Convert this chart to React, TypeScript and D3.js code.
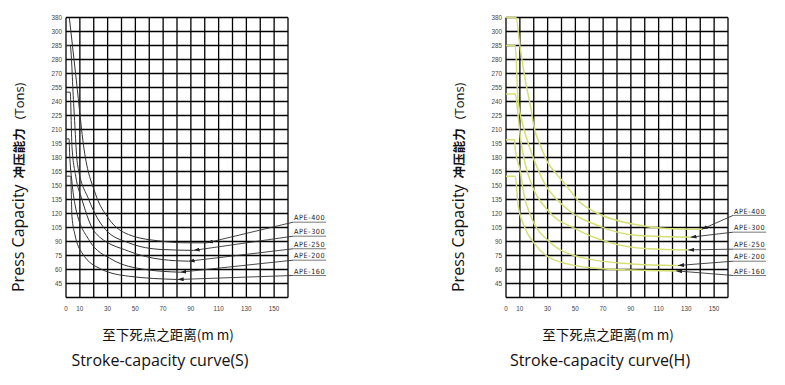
import React from 'react';
import * as d3 from 'd3';

// model names, top to bottom
const models = ['APE-400', 'APE-300', 'APE-250', 'APE-200', 'APE-160'];

// y tick labels as printed on the sheet (one per grid line, from the top)
const yTickLabels = ['380', '300', '285', '280', '270', '255', '240', '225', '210', '195',
  '180', '165', '150', '135', '120', '105', '90', '75', '60', '45'];
const yTickValues = [330, 315, 300, 285, 270, 255, 240, 225, 210, 195,
  180, 165, 150, 135, 120, 105, 90, 75, 60, 45];
const xTickValues = [0, 10, 30, 50, 70, 90, 110, 130, 150];

// Stroke-capacity curve (S): [stroke mm, capacity t]
const sApe400 = [[2.4, 330], [7.5, 262], [13, 189], [21, 142], [31, 114], [45, 97.5], [69, 90.3], [88, 88.6], [101.6, 88.6]];
const sApe300 = [[0, 300], [3, 300], [5.5, 238], [8.3, 172.5], [16.4, 135], [28.3, 103], [45.2, 88.6], [69.2, 81.4], [92, 80.5]];
const sApe250 = [[0, 250], [3, 250], [4.3, 192], [7, 160], [11.5, 135], [21.1, 99.3], [45.2, 79.6], [69.2, 70.7], [88.4, 68.9]];
const sApe200 = [[0, 200], [2.2, 200], [2.6, 185], [4.2, 155], [6.7, 128], [16.4, 92.1], [33.2, 70.7], [57.2, 60], [82.4, 57.1]];
const sApe160 = [[0, 160], [3.4, 160], [4.3, 117], [6.5, 97], [11.5, 77.9], [25.9, 60], [45.2, 52.8], [80.5, 49.3]];
const sLabelTons = [110.7, 95.7, 82.2, 70, 53.6];

// Stroke-capacity curve (H)
const hApe400 = [[0, 330], [7.2, 330], [10, 300], [14, 262], [18, 232], [20, 214], [25, 192], [30.3, 174], [36, 163], [42.3, 152], [51.9, 134], [66.3, 120], [90.3, 109], [115, 104], [141, 103]];
const hApe300 = [[0, 300], [6.7, 300], [8.6, 243], [12.3, 214], [17.8, 187.5], [21.8, 171.4], [27.9, 152], [42.3, 127], [66.3, 107], [95.1, 96.4], [133, 94.6]];
const hApe250 = [[0, 248], [6.7, 248], [8.5, 228], [10.5, 200], [14, 172], [18.2, 152], [30.3, 123], [49.5, 104], [73.5, 89.3], [102.3, 82.2], [131.4, 81]];
const hApe200 = [[0, 199], [6.2, 199], [6.8, 187], [9.9, 168], [13, 140], [18.2, 116], [30.3, 91], [54.3, 73], [90.3, 66], [124, 64.3]];
const hApe160 = [[0, 160], [6.7, 160], [8.6, 130], [13.5, 105], [20.7, 87.5], [35.1, 70], [66.3, 61], [90, 59.5], [122.7, 58.5]];
const hLabelTons = [118, 100, 81.8, 68.9, 53.6];

// label underline span, mm
const labelStroke = [163.7, 187.5];

type Pt = number[];

function Panel({ left, id, series, labelTons, curveColor, curveWidth, title }: {
  left: number; id: string; series: Pt[][]; labelTons: number[];
  curveColor: string; curveWidth: number; title: string;
}) {
  const x = d3.scaleLinear().domain([0, 160]).range([left, left + 222]);
  const y = d3.scaleLinear().domain([30, 330]).range([297.5, 17.5]);
  const line = d3.line<Pt>().x(d => x(d[0])).y(d => y(d[1])).curve(d3.curveMonotoneX);

  const vLines = d3.range(0, 161, 10);
  const hLines = d3.range(30, 331, 15);

  return (
    <g>
      <defs>
        <marker id={`arr-${id}`} viewBox="0 0 6 4" refX="6" refY="2" markerWidth="6" markerHeight="4"
          markerUnits="userSpaceOnUse" orient="auto">
          <path d="M0,0 L6,2 L0,4 z" fill="#222" />
        </marker>
      </defs>

      {/* grid */}
      {vLines.map(v => (
        <line key={'v' + v} x1={x(v)} x2={x(v)} y1={y(30)} y2={y(330)} stroke="#000" strokeWidth={1.3} />
      ))}
      {hLines.map(v => (
        <line key={'h' + v} x1={x(0)} x2={x(160)} y1={y(v)} y2={y(v)} stroke="#000" strokeWidth={1.3} />
      ))}

      {/* tick labels */}
      {yTickValues.map((v, i) => (
        <text key={'yt' + v} x={x(0) - 4} y={y(v)} dy="0.35em" textAnchor="end"
          fontFamily="Liberation Sans" fontSize={6.3} fill="#444">{yTickLabels[i]}</text>
      ))}
      {xTickValues.map(v => (
        <text key={'xt' + v} x={x(v)} y={311} textAnchor="middle"
          fontFamily="Liberation Sans" fontSize={6.3} fill="#444">{v}</text>
      ))}

      {/* curves */}
      {series.map((s, i) => (
        <path key={'c' + i} d={line(s) || ''} fill="none" stroke={curveColor} strokeWidth={curveWidth} />
      ))}

      {/* leaders + labels */}
      {series.map((s, i) => {
        const end = s[s.length - 1];
        const ly = y(labelTons[i]);
        return (
          <g key={'l' + i}>
            <line x1={x(labelStroke[0])} y1={ly} x2={x(end[0])} y2={y(end[1])}
              stroke="#333" strokeWidth={0.9} markerEnd={`url(#arr-${id})`} />
            <line x1={x(labelStroke[0])} x2={x(labelStroke[1])} y1={ly} y2={ly} stroke="#555" strokeWidth={0.8} />
            <text x={(x(labelStroke[0]) + x(labelStroke[1])) / 2} y={ly - 1.8} textAnchor="middle"
              fontFamily="DejaVu Sans Condensed" fontSize={7.2} letterSpacing={0.6} fill="#222">{models[i]}</text>
          </g>
        );
      })}

      {/* y title */}
      <text transform={`translate(${left - 42},292) rotate(-90)`} textAnchor="start" fill="#111">
        <tspan fontFamily="Open Sans" fontSize={16}>Press Capacity</tspan>
        <tspan dx={6} fontFamily="Noto Sans CJK SC" fontSize={12.5} fontWeight={700}>冲压能力</tspan>
        <tspan dx={9} fontFamily="Open Sans" fontSize={13}>(Tons)</tspan>
      </text>

      {/* x title */}
      <text x={left + 102} y={340} textAnchor="middle" fontFamily="Noto Sans CJK SC" fontSize={13.5}
        fill="#111">至下死点之距离(m m)</text>
      <text x={left + 94} y={366} textAnchor="middle" fontFamily="Open Sans" fontSize={16} fill="#111">{title}</text>
    </g>
  );
}

export default function App() {
  return (
    <svg width={785} height={385} style={{ position: 'absolute', left: 0, top: 0, background: '#fff' }}>
      <rect width={785} height={385} fill="#fff" />
      <Panel left={66} id="s" series={[sApe400, sApe300, sApe250, sApe200, sApe160]} labelTons={sLabelTons}
        curveColor="#333" curveWidth={1} title="Stroke-capacity curve(S)" />
      <Panel left={506} id="h" series={[hApe400, hApe300, hApe250, hApe200, hApe160]} labelTons={hLabelTons}
        curveColor="#d5df74" curveWidth={1.5} title="Stroke-capacity curve(H)" />
    </svg>
  );
}
